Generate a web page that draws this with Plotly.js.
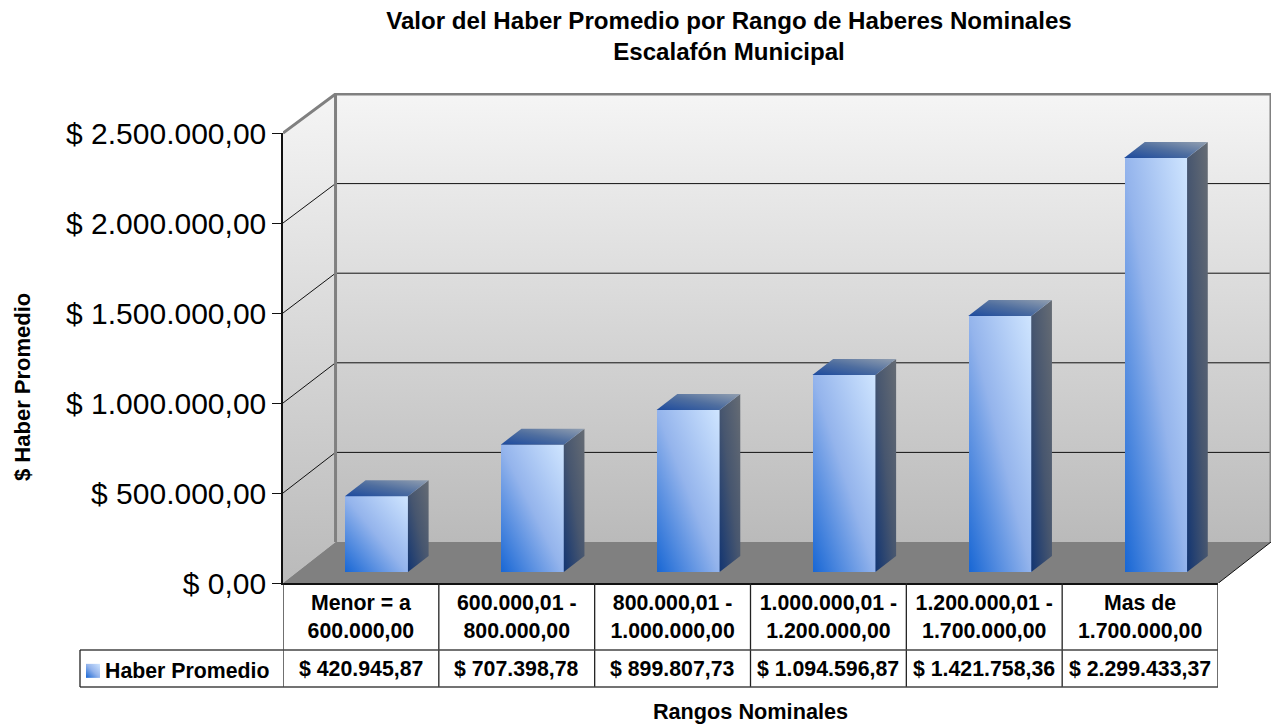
<!DOCTYPE html>
<html>
<head>
<meta charset="utf-8">
<script src="https://cdn.plot.ly/plotly-3.0.1.min.js"></script>
<style>html,body{margin:0;padding:0;background:#fff}</style>
</head>
<body>
<div id="chart" style="width:1276px;height:724px"></div>
<script>
const categories = ['Menor = a<br>600.000,00','600.000,01 -<br>800.000,00','800.000,01 -<br>1.000.000,00','1.000.000,01 -<br>1.200.000,00','1.200.000,01 -<br>1.700.000,00','Mas de<br>1.700.000,00'];
const haberPromedio = [420945.87, 707398.78, 899807.73, 1094596.87, 1421758.36, 2299433.37];
const valueLabels = ['$ 420.945,87','$ 707.398,78','$ 899.807,73','$ 1.094.596,87','$ 1.421.758,36','$ 2.299.433,37'];
const yTicks = [0, 500000, 1000000, 1500000, 2000000, 2500000];
const yTickLabels = ['$ 0,00','$ 500.000,00','$ 1.000.000,00','$ 1.500.000,00','$ 2.000.000,00','$ 2.500.000,00'];
const seriesName = 'Haber Promedio';
const titleText = 'Valor del Haber Promedio por Rango de Haberes Nominales<br>Escalafón Municipal';

const FONT = 'Liberation Sans, Arial, sans-serif';
const W = 1276, H = 724;
const px = p => p / W, py = p => 1 - p / H;
const catW = 935 / 6, valPx = 2.5e6 / 450;

// wall geometry, expressed in data units
const wallDx = 52.5 / catW;
const backY = v => v * 448 / 450 + 41 * valPx;
const x0 = -0.5, x1 = 5.5;
const topV = yTicks[yTicks.length - 1];

// bar geometry
const barW = 63 / catW, barDx = 20.7 / catW, barDy = 16 * valPx;
const idx = haberPromedio.map((_, i) => i);

const traces = [];
// Walls and floor (bottom subplot)
const wallBase = {type:'scatter', xaxis:'x', yaxis:'y', mode:'lines', line:{width:0}, fill:'toself', hoverinfo:'skip', showlegend:false, cliponaxis:false};
const wallGrad = {type:'vertical', colorscale:[[0,'#bababa'],[1,'#f5f5f5']]};
traces.push(Object.assign({}, wallBase, {name:'back wall', x:[x0+wallDx,x1+wallDx,x1+wallDx,x0+wallDx,x0+wallDx], y:[backY(0),backY(0),backY(topV),backY(topV),backY(0)], fillgradient:wallGrad}));
traces.push(Object.assign({}, wallBase, {name:'side wall', x:[x0,x0+wallDx,x0+wallDx,x0,x0], y:[0,backY(0),backY(topV),topV,0], fillgradient:wallGrad}));
traces.push(Object.assign({}, wallBase, {name:'floor', x:[x0,x1,x1+wallDx,x0+wallDx,x0], y:[0,0,backY(0),backY(0),0], fillcolor:'#808080'}));

// gridlines
const gx = [], gy = [];
yTicks.slice(1, -1).forEach(v => { gx.push(x0, x0+wallDx, x1+wallDx, null); gy.push(v, backY(v), backY(v), null); });
gx.push(x1, x1+wallDx, null); gy.push(0, backY(0), null);
traces.push({type:'scatter', xaxis:'x', yaxis:'y', mode:'lines', x:gx, y:gy, line:{color:'#111', width:1}, hoverinfo:'skip', showlegend:false, cliponaxis:false, connectgaps:false, name:'grid'});
// gray frame
traces.push({type:'scatter', xaxis:'x', yaxis:'y', mode:'lines',
  x:[x0, x0+wallDx, x1+wallDx, x1+wallDx, null, x0+wallDx, x0+wallDx],
  y:[topV, backY(topV), backY(topV), backY(0), null, backY(topV), backY(0)],
  line:{color:'#808080', width:3}, hoverinfo:'skip', showlegend:false, cliponaxis:false, name:'frame'});

// Bars
traces.push({type:'bar', xaxis:'x2', yaxis:'y2', x:idx, y:haberPromedio, width:barW, name:seriesName, hovertext:valueLabels, marker:{color:'#94b4ec', line:{width:0}}, showlegend:true});
haberPromedio.forEach((v, i) => {
  const r = i + barW/2, l = i - barW/2;
  traces.push({type:'scatter', xaxis:'x2', yaxis:'y2', mode:'lines', line:{width:0}, fill:'toself', fillcolor:'#3a4a6a', hoverinfo:'skip', showlegend:false, cliponaxis:false, name:'side',
    x:[r, r+barDx, r+barDx, r, r], y:[0, barDy, v+barDy, v, 0]});
  traces.push({type:'scatter', xaxis:'x2', yaxis:'y2', mode:'lines', line:{width:0}, fill:'toself', fillcolor:'#4a6a9a', hoverinfo:'skip', showlegend:false, cliponaxis:false, name:'top',
    x:[l, r, r+barDx, l+barDx, l], y:[v, v, v+barDy, v+barDy, v]});
});

// Front axis carrier
traces.push({type:'scatter', xaxis:'x3', yaxis:'y3', mode:'markers', x:categories, y:haberPromedio, marker:{opacity:0, size:1}, hoverinfo:'skip', showlegend:false, name:'front'});

// Data table lines
const shapes = [];
const lineStyle = {color:'#222', width:1.3};
categories.forEach((c, i) => shapes.push({type:'line', xref:'x3', yref:'paper', x0:i-0.5, x1:i-0.5, y0:py(583), y1:py(687), line:lineStyle}));
shapes.push({type:'line', xref:'x3', yref:'paper', x0:5.5, x1:5.5, y0:py(583), y1:py(687), line:lineStyle});
shapes.push({type:'line', xref:'paper', yref:'paper', x0:px(80), x1:px(1218), y0:py(650), y1:py(650), line:{color:'#444', width:1.5}});
shapes.push({type:'line', xref:'paper', yref:'paper', x0:px(80), x1:px(1218), y0:py(687), y1:py(687), line:{color:'#444', width:1.5}});
shapes.push({type:'line', xref:'paper', yref:'paper', x0:px(80), x1:px(80), y0:py(650), y1:py(687), line:lineStyle});

const annotations = valueLabels.map((t, i) => ({text:t, xref:'x3', yref:'paper', x:categories[i], y:py(668.5), xanchor:'center', yanchor:'middle', showarrow:false, font:{family:FONT, size:21.3, weight:'bold', color:'#000'}}));
annotations.push({text:'$ Haber Promedio', xref:'paper', yref:'paper', x:px(22), y:py(387), xanchor:'center', yanchor:'middle', textangle:-90, showarrow:false, font:{family:FONT, size:22, weight:'bold', color:'#000'}});

const layout = {
  width:W, height:H, autosize:false,
  margin:{l:0, r:0, t:0, b:0},
  paper_bgcolor:'#fff', plot_bgcolor:'rgba(0,0,0,0)',
  font:{family:FONT, color:'#000'},
  title:{text:titleText, x:px(729), xanchor:'center', xref:'paper', y:py(29), yanchor:'top', font:{family:FONT, size:24.1, weight:'bold', color:'#000'}},
  showlegend:true,
  legend:{x:px(65), y:py(669.5), xanchor:'left', yanchor:'middle', bgcolor:'rgba(0,0,0,0)', font:{family:FONT, size:21.3, weight:'bold', color:'#000'}},
  bargap:0,
  xaxis:{domain:[px(283), px(1271)], range:[x0, x1+wallDx], visible:false, fixedrange:true},
  yaxis:{domain:[py(583), py(93)], range:[0, 490*valPx], visible:false, fixedrange:true},
  xaxis2:{domain:[px(298.5), px(1233.5)], range:[x0, x1], visible:false, anchor:'y2', fixedrange:true},
  yaxis2:{domain:[py(572), py(122)], range:[0, topV], visible:false, anchor:'x2', fixedrange:true},
  xaxis3:{domain:[px(283), px(1218)], type:'category', categoryorder:'array', categoryarray:categories, range:[-0.5,5.5], anchor:'y3', showline:true, linecolor:'#111', linewidth:1.5, ticks:'', showgrid:false, zeroline:false, tickangle:0, automargin:false, tickfont:{family:FONT, size:21.3, weight:'bold', color:'#000'},
    title:{text:'Rangos Nominales', standoff:65, font:{family:FONT, size:21.7, weight:'bold', color:'#000'}}, fixedrange:true},
  yaxis3:{domain:[py(583), py(133)], range:[0, topV], anchor:'x3', tickmode:'array', tickvals:yTicks, ticktext:yTickLabels, ticks:'outside', ticklen:9, tickwidth:1.3, tickcolor:'#111', showline:true, linecolor:'#111', linewidth:1.5, showgrid:false, zeroline:false, automargin:false, tickfont:{family:FONT, size:30, color:'#000'}, fixedrange:true},
  shapes, annotations
};

Plotly.newPlot('chart', traces, layout, {displayModeBar:false}).then(gd => {
  const svg = gd.querySelector('.main-svg');
  const NS = 'http://www.w3.org/2000/svg';
  let defs = svg.querySelector('defs');
  const addGrad = (id, stops) => {
    const g = document.createElementNS(NS, 'linearGradient');
    g.setAttribute('id', id);
    g.setAttribute('x1', '0'); g.setAttribute('y1', '1'); g.setAttribute('x2', '1'); g.setAttribute('y2', '0');
    stops.forEach(([o, c]) => { const s = document.createElementNS(NS, 'stop'); s.setAttribute('offset', o); s.setAttribute('stop-color', c); g.appendChild(s); });
    defs.appendChild(g);
  };
  addGrad('barFront', [[0,'#1766d4'],[0.5,'#94b4ec'],[1,'#cfe5ff']]);
  addGrad('barSide', [[0,'#123572'],[0.5,'#47566f'],[1,'#666c74']]);
  addGrad('barTop', [[0,'#1c4a9e'],[0.5,'#4f6e9f'],[1,'#929fb0']]);
  gd.querySelectorAll('.barlayer .point path').forEach(p => { p.style.fill = 'url(#barFront)'; });
  gd.querySelectorAll('.legend .legendpoints path').forEach(p => {
    p.style.fill = 'url(#barFront)'; p.style.stroke = 'none';
    p.setAttribute('d', 'M7,7H-7V-7H7Z');
    p.setAttribute('transform', 'translate(28,1.5)');
  });
  const fills = gd.querySelectorAll('.x2y2 .scatterlayer .trace .js-fill');
  fills.forEach((f, i) => { f.style.fill = i % 2 === 0 ? 'url(#barSide)' : 'url(#barTop)'; });
});
</script>
</body>
</html>
